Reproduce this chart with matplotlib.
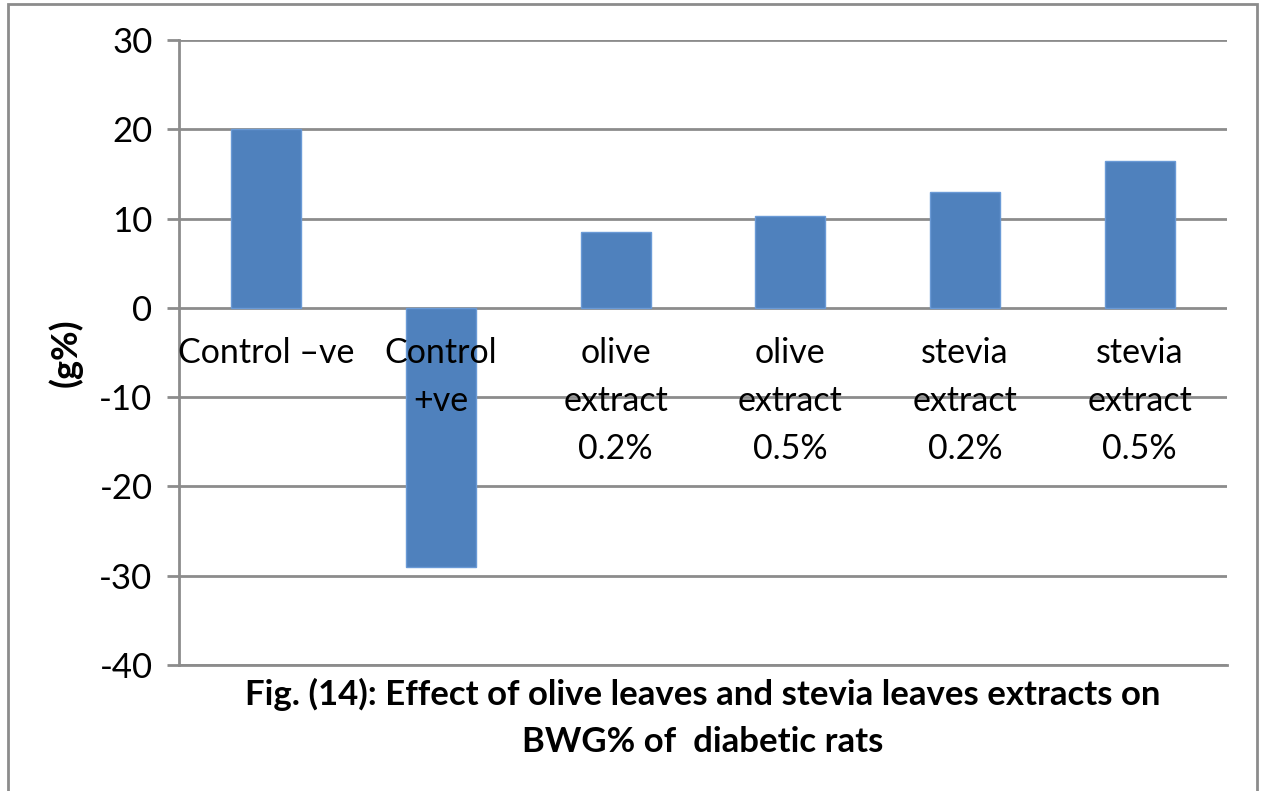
import numpy as np
import matplotlib.pyplot as plt
from matplotlib.patches import Rectangle

plt.rcParams['font.family'] = ['Lato', 'DejaVu Sans']

# data
groups = ['Control \u2013ve', 'Control\n+ve', 'olive\nextract\n0.2%', 'olive\nextract\n0.5%',
          'stevia\nextract\n0.2%', 'stevia\nextract\n0.5%']
bwg = [20.0, -29.0, 8.5, 10.3, 13.0, 16.4]
yticks = [-40, -30, -20, -10, 0, 10, 20, 30]

fig = plt.figure(figsize=(12.61, 7.91), dpi=100)
ax = fig.add_axes([179/1261, 1 - 665/791, (1227-179)/1261, (665-40)/791])

x = np.arange(len(groups))
ax.bar(x, bwg, width=0.4, color='#4F81BD', edgecolor='#6A9AD6', linewidth=1, zorder=3)

ax.set_ylim(-40, 30)
ax.set_xlim(-0.5, len(groups) - 0.5)
ax.set_yticks(yticks)
ax.set_yticklabels([str(t) for t in yticks], fontsize=25)
ax.yaxis.grid(True, color='#8c8c8c', linewidth=2, zorder=1)
ax.set_xticks([])
ax.tick_params(axis='y', length=9, width=2, color='#8c8c8c', pad=10)

for s in ['top', 'right']:
    ax.spines[s].set_visible(False)
for s in ['left', 'bottom']:
    ax.spines[s].set_color('#8c8c8c')
    ax.spines[s].set_linewidth(2)

# category labels sit just under the zero line
for xi, lab in zip(x, groups):
    ax.annotate(lab, xy=(xi, 0), xytext=(0, -21), textcoords='offset points',
                ha='center', va='top', fontsize=24.5, linespacing=1.62, zorder=4)

ax.set_ylabel('(g%)', fontsize=26, fontweight='bold', labelpad=12)

fig.text(703/1261, 1 - 718/791, 'Fig. (14): Effect of olive leaves and stevia leaves extracts on\nBWG% of  diabetic rats',
         ha='center', va='center', fontsize=25, fontweight='bold', linespacing=1.55)

fig.patches.append(Rectangle((8/1261, -0.02), (1257-8)/1261, 1.02 - 4/791, transform=fig.transFigure,
                             fill=False, edgecolor='#8c8c8c', linewidth=2))

fig.savefig('out.png', dpi=100)
